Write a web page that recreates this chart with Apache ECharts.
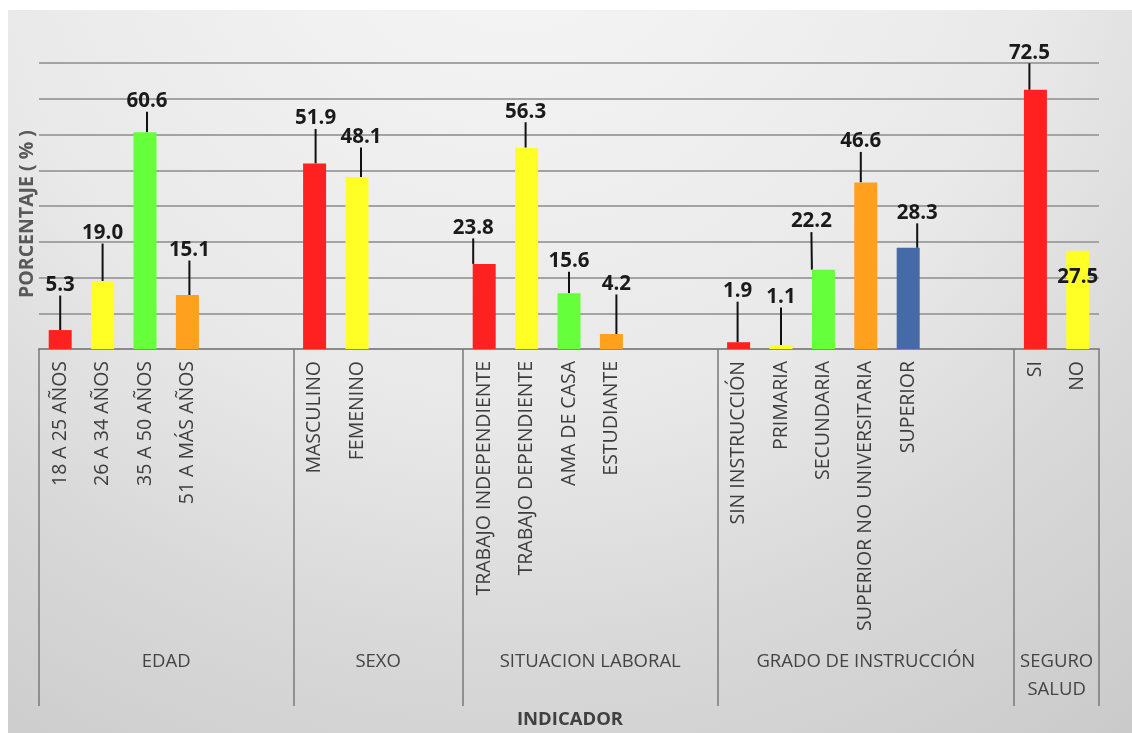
<!DOCTYPE html>
<html><head><meta charset="utf-8">
<script src="https://cdn.jsdelivr.net/npm/echarts@6/dist/echarts.min.js"></script>
<style>html,body{margin:0;padding:0;background:#fff}#c{width:1132px;height:733px}</style>
</head><body><div id="c"></div><script>
// ---- data ----
const groupNames = ['EDAD', 'SEXO', 'SITUACION LABORAL', 'GRADO DE INSTRUCCIÓN', 'SEGURO\nSALUD'];
const edadCategories = ['18 A 25 AÑOS', '26 A 34 AÑOS', '35 A 50 AÑOS', '51 A MÁS AÑOS'];
const edadValues = [5.3, 19.0, 60.6, 15.1];
const sexoCategories = ['MASCULINO', 'FEMENINO'];
const sexoValues = [51.9, 48.1];
const laboralCategories = ['TRABAJO INDEPENDIENTE', 'TRABAJO DEPENDIENTE', 'AMA DE CASA', 'ESTUDIANTE'];
const laboralValues = [23.8, 56.3, 15.6, 4.2];
const instruccionCategories = ['SIN INSTRUCCIÓN', 'PRIMARIA', 'SECUNDARIA', 'SUPERIOR NO UNIVERSITARIA', 'SUPERIOR'];
const instruccionValues = [1.9, 1.1, 22.2, 46.6, 28.3];
const seguroCategories = ['SI', 'NO'];
const seguroValues = [72.5, 27.5];
const yMin = 0, yMax = 80, yInterval = 10;

// ---- layout / style ----
const groupGapSlots = [2, 2, 2, 2, 0];          // empty slots after each group
const palette = ['#ff2020', '#ffff26', '#66ff3c', '#ffa01f', '#4669a8'];
// label nudges [dx, dy from bar top, showLeaderLine]
const labelNudges = {
  '18 A 25 AÑOS': [0, -45, true], '26 A 34 AÑOS': [0, -48, true], '35 A 50 AÑOS': [2, -31, true], '51 A MÁS AÑOS': [2, -45, true],
  'MASCULINO': [1, -45, true], 'FEMENINO': [4, -40, true],
  'TRABAJO INDEPENDIENTE': [-11, -36, true], 'TRABAJO DEPENDIENTE': [-1, -36, true], 'AMA DE CASA': [0, -32, true], 'ESTUDIANTE': [5, -50, true],
  'SIN INSTRUCCIÓN': [-1, -51, true], 'PRIMARIA': [0, -48, true], 'SECUNDARIA': [-12, -48, true], 'SUPERIOR NO UNIVERSITARIA': [-5, -41, true], 'SUPERIOR': [9, -35, true],
  'SI': [-6, -37, true], 'NO': [0, 26, false]
};

const groups = [
  [edadCategories, edadValues], [sexoCategories, sexoValues], [laboralCategories, laboralValues],
  [instruccionCategories, instruccionValues], [seguroCategories, seguroValues]
];
const categories = [], seriesData = [], nudgeList = [], boundaries = [0], centers = [];
groups.forEach(function (g, gi) {
  const start = categories.length;
  g[0].forEach(function (name, i) {
    const n = labelNudges[name];
    categories.push(name);
    nudgeList.push(n);
    seriesData.push({ value: g[1][i], itemStyle: { color: palette[i] }, labelLine: { show: n[2] } });
  });
  for (let k = 0; k < groupGapSlots[gi]; k++) { categories.push(''); seriesData.push(null); nudgeList.push(null); }
  boundaries.push(categories.length);
  centers.push((start + categories.length) / 2);
});
const totalSlots = categories.length;

const chart = echarts.init(document.getElementById('c'), null, { renderer: 'canvas' });
const font = 'Open Sans';
chart.setOption({
  backgroundColor: '#ffffff',
  animation: false,
  graphic: [
    { type: 'rect', z: -100, silent: true, shape: { x: 8, y: 10, width: 1124, height: 723 },
      style: { fill: new echarts.graphic.RadialGradient(0.45, -0.2, 1.5, [
        { offset: 0, color: '#f7f7f7' }, { offset: 0.5, color: '#e9e9e9' },
        { offset: 0.73, color: '#d8d8d8' }, { offset: 0.86, color: '#d1d1d1' }, { offset: 1, color: '#c9c9c9' }]) } },
    { type: 'text', x: 27, y: 214, rotation: Math.PI / 2, z: 10,
      style: { text: 'PORCENTAJE ( % )', fontFamily: font, fontWeight: 'bold', fontSize: 19.5, fill: '#595959', align: 'center', verticalAlign: 'middle' } },
    { type: 'text', x: 570, y: 720, z: 10,
      style: { text: 'INDICADOR', fontFamily: font, fontWeight: 'bold', fontSize: 18.5, fill: '#404040', align: 'center', verticalAlign: 'middle' } }
  ],
  grid: { left: 39, right: 33, top: 63, bottom: 384, containLabel: false },
  xAxis: [
    { type: 'category', data: categories, position: 'bottom',
      axisLine: { show: true, lineStyle: { color: '#8a8a8a', width: 2 } },
      axisTick: { show: false },
      axisLabel: { interval: 0, rotate: 90, margin: 12, fontFamily: font, fontSize: 19.5, color: '#3d3d3d' },
      splitLine: { show: false } },
    { type: 'value', min: 0, max: totalSlots, position: 'bottom',
      axisLine: { show: false }, splitLine: { show: false },
      axisTick: { show: true, customValues: boundaries, length: 357, lineStyle: { color: '#7a7a7a', width: 1.5 } },
      axisLabel: { show: true, customValues: centers, margin: 299, fontFamily: font, fontSize: 18.5, lineHeight: 28, color: '#444444',
        formatter: function (v) { const i = centers.indexOf(v); return i >= 0 ? groupNames[i] : ''; } } }
  ],
  yAxis: { type: 'value', min: yMin, max: yMax, interval: yInterval,
    axisLabel: { show: false }, axisLine: { show: false }, axisTick: { show: false },
    splitLine: { show: true, lineStyle: { color: '#a3a3a3', width: 2 } } },
  series: [{
    type: 'bar', xAxisIndex: 0, barWidth: 23, data: seriesData,
    label: { show: true, position: 'top', fontFamily: font, fontWeight: 'bold', fontSize: 20.5, color: '#1a1a1a',
      formatter: function (p) { return Number(p.value).toFixed(1); } },
    labelLine: { show: true, lineStyle: { color: '#111111', width: 2 } },
    labelLayout: function (p) {
      const n = nudgeList[p.dataIndex];
      if (!n) return {};
      const top = Math.min(p.rect.y, p.rect.y + p.rect.height);
      return { x: p.rect.x + p.rect.width / 2 + n[0], y: top + n[1], align: 'center', verticalAlign: 'middle' };
    }
  }]
});
</script></body></html>
